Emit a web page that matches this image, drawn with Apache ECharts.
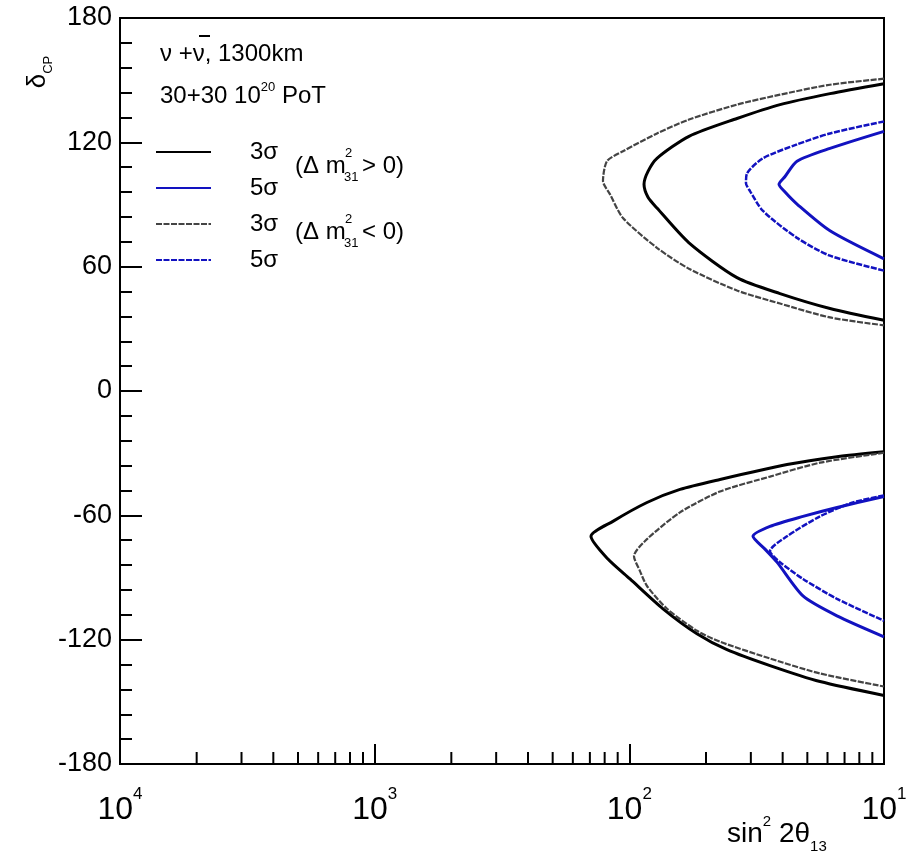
<!DOCTYPE html>
<html>
<head>
<meta charset="utf-8">
<script src="https://cdn.jsdelivr.net/npm/echarts@6/dist/echarts.min.js"></script>
<style>
  html, body { margin: 0; padding: 0; background: #fff; }
  #chart { width: 912px; height: 856px; }
</style>
</head>
<body>
<div id="chart"></div>
<script>
// x range and labels
const xMin = 1e-4;
const xMax = 0.1;
const yTicks = [-180, -120, -60, 0, 60, 120, 180];
const xMinorMantissa = [2, 3, 4, 5, 6, 7, 8, 9];
const xMinorDecades = [1e-4, 1e-3, 1e-2];

// contours: [sin^2 2theta13, deltaCP]
// upper island (deltaCP > 0)
const nh3Upper = [[0.1, 148.3], [0.06137, 143.5], [0.03905, 138.2], [0.02647, 131.5], [0.01715, 122.9], [0.01284, 112.3], [0.01184, 106], [0.01142, 99.8], [0.01184, 93.5], [0.01284, 88.3], [0.01715, 71.5], [0.02647, 54.7], [0.03905, 47.0], [0.06137, 39.8], [0.1, 34.1]];
const ih3Upper = [[0.1, 150.7], [0.06137, 147.8], [0.03905, 143.0], [0.02647, 138.2], [0.01715, 131.0], [0.01284, 124.3], [0.00944, 115.7], [0.00817, 110.9], [0.00788, 101.3], [0.00839, 95.0], [0.00944, 83.5], [0.01284, 69.1], [0.01715, 59.0], [0.02647, 48.5], [0.03905, 42.2], [0.06137, 35.5], [0.1, 31.7]];
const nh5Upper = [[0.1, 125.3], [0.06137, 117.1], [0.04554, 110.9], [0.04087, 103.5], [0.0387, 99.8], [0.04087, 96], [0.04554, 90.2], [0.06137, 77.3], [0.1, 63.8]];
const ih5Upper = [[0.1, 130.1], [0.06137, 124.3], [0.04554, 119.0], [0.03348, 112.3], [0.02897, 105], [0.02871, 100.3], [0.02977, 96.5], [0.03348, 86.9], [0.04554, 73.9], [0.06137, 65.3], [0.1, 58.1]];
// lower island (deltaCP < 0)
const nh3Lower = [[0.1, -29.3], [0.06538, -31.7], [0.04161, -35.5], [0.0227, -42.7], [0.01581, -47.5], [0.01173, -53.8], [0.00862, -62.9], [0.00707, -70.1], [0.00824, -81.1], [0.01006, -90.7], [0.01356, -105.1], [0.01843, -117.1], [0.02418, -124.8], [0.03567, -132.5], [0.05607, -140.2], [0.1, -146.9]];
const ih3Lower = [[0.1, -29.8], [0.05607, -34.6], [0.03567, -41.3], [0.0227, -48.5], [0.01581, -58.6], [0.01173, -71.5], [0.01043, -79.7], [0.01101, -86.9], [0.01173, -94.1], [0.01406, -105.1], [0.01843, -115.7], [0.0227, -121.0], [0.03567, -129.1], [0.05607, -136.3], [0.1, -142.6]];
const nh5Lower = [[0.1, -50.9], [0.06538, -56.2], [0.04807, -60.5], [0.03567, -65.3], [0.03059, -70.1], [0.03409, -76.3], [0.038, -82.6], [0.04807, -98.9], [0.06538, -108.5], [0.1, -118.6]];
const ih5Lower = [[0.1, -50.4], [0.07553, -53.8], [0.05607, -60.5], [0.04161, -70.1], [0.03567, -77.3], [0.03905, -82.6], [0.04807, -90.7], [0.06538, -100.3], [0.1, -110.9]];

const names = ["3σ (NH)", "5σ (NH)", "3σ (IH)", "5σ (IH)"];
const FONT = "Liberation Sans";
const blue = "#1212c0";

// minor tick positions on the log axis (2..9 per decade)
const xMinorTicks = [];
xMinorDecades.forEach(d => xMinorMantissa.forEach(m => xMinorTicks.push(m * d)));

function contour(name, data, color, width, dashed) {
  return {
    type: "line",
    name: name,
    data: data,
    symbol: "none",
    smooth: 0.25,
    silent: true,
    lineStyle: { color: color, width: width, type: dashed ? [6, 1.5] : "solid" },
    itemStyle: { color: color }
  };
}

const chart = echarts.init(document.getElementById("chart"));
const option = {
  animation: false,
  backgroundColor: "#fff",
  grid: {
    left: 120, right: 28, top: 18, bottom: 92,
    show: true, borderColor: "#000", borderWidth: 2, backgroundColor: "transparent"
  },
  legend: {
    data: names,
    orient: "vertical",
    left: 155,
    top: 140,
    padding: 0,
    itemWidth: 55,
    itemHeight: 10,
    itemGap: 12,
    itemStyle: { opacity: 0 },
    formatter: n => n.split(" ")[0],
    textStyle: { fontFamily: FONT, fontSize: 24, color: "#000", lineHeight: 20, padding: [0, 0, 0, 34] }
  },
  xAxis: {
    type: "log",
    logBase: 10,
    min: xMin,
    max: xMax,
    axisLine: { onZero: false, lineStyle: { color: "#000", width: 2 } },
    axisTick: { inside: true, length: 20, lineStyle: { color: "#000", width: 2 } },
    splitLine: { show: false },
    axisLabel: {
      margin: 22,
      formatter: v => "{b|10}{s|" + Math.abs(Math.round(Math.log10(v))) + "}",
      rich: {
        b: { fontFamily: FONT, fontSize: 32, color: "#000", lineHeight: 40, verticalAlign: "bottom" },
        s: { fontFamily: FONT, fontSize: 17, color: "#000", lineHeight: 40, verticalAlign: "top" }
      }
    }
  },
  yAxis: {
    type: "value",
    min: -180,
    max: 180,
    interval: 60,
    axisLine: { lineStyle: { color: "#000", width: 2 } },
    axisTick: { inside: true, length: 22, lineStyle: { color: "#000", width: 2 } },
    minorTick: { show: true, splitNumber: 5, length: 12, lineStyle: { color: "#000", width: 2 } },
    splitLine: { show: false },
    axisLabel: {
      margin: 8,
      fontFamily: FONT,
      fontSize: 27,
      color: "#000",
      formatter: v => (yTicks.indexOf(v) >= 0 ? String(v) : "")
    }
  },
  series: [
    contour(names[0], nh3Upper, "#000", 3, false),
    contour(names[0], nh3Lower, "#000", 3, false),
    contour(names[1], nh5Upper, blue, 3, false),
    contour(names[1], nh5Lower, blue, 3, false),
    contour(names[2], ih3Upper, "#444", 2.2, true),
    contour(names[2], ih3Lower, "#444", 2.2, true),
    contour(names[3], ih5Upper, blue, 2.5, true),
    contour(names[3], ih5Lower, blue, 2.5, true),
    {
      type: "custom",
      name: "minor",
      silent: true,
      z: 5,
      data: xMinorTicks.map(v => [v, -180]),
      encode: { x: 0, y: 1 },
      renderItem: (params, api) => {
        const p = api.coord([api.value(0), -180]);
        return {
          type: "line",
          shape: { x1: p[0], y1: p[1], x2: p[0], y2: p[1] - 12 },
          style: { stroke: "#000", lineWidth: 2 }
        };
      }
    }
  ],
  graphic: [
    // y axis title, rotated
    {
      type: "group", x: 40, y: 72, rotation: Math.PI / 2,
      children: [{
        type: "text", x: 0, y: 0,
        style: {
          text: "{d|δ}{c|CP}", align: "center", verticalAlign: "middle",
          rich: {
            d: { fontFamily: FONT, fontSize: 26, fill: "#000", lineHeight: 30, verticalAlign: "top" },
            c: { fontFamily: FONT, fontSize: 13, fill: "#000", lineHeight: 30, verticalAlign: "bottom" }
          }
        }
      }]
    },
    // x axis title
    {
      type: "text", x: 727, y: 834,
      style: {
        text: "{m|sin}{u|2}{m| 2θ}{l|13}", verticalAlign: "middle",
        rich: {
          m: { fontFamily: FONT, fontSize: 28, fill: "#000", lineHeight: 40, verticalAlign: "middle" },
          u: { fontFamily: FONT, fontSize: 15, fill: "#000", lineHeight: 40, verticalAlign: "top" },
          l: { fontFamily: FONT, fontSize: 15, fill: "#000", lineHeight: 40, verticalAlign: "bottom" }
        }
      }
    },
    // header texts
    {
      type: "text", x: 160, y: 54,
      style: { text: "ν +ν, 1300km", fontFamily: FONT, fontSize: 24, fill: "#000", verticalAlign: "middle" }
    },
    {
      type: "line", shape: { x1: 199, y1: 36, x2: 210, y2: 36 }, style: { stroke: "#000", lineWidth: 2 }
    },
    {
      type: "text", x: 160, y: 96,
      style: {
        text: "{m|30+30 10}{u|20}{m| PoT}", verticalAlign: "middle",
        rich: {
          m: { fontFamily: FONT, fontSize: 24, fill: "#000", lineHeight: 30, verticalAlign: "middle" },
          u: { fontFamily: FONT, fontSize: 13, fill: "#000", lineHeight: 30, verticalAlign: "top" }
        }
      }
    },
    // legend parentheticals
    { type: "text", x: 295, y: 166, style: { text: "(Δ m", fontFamily: FONT, fontSize: 24, fill: "#000", verticalAlign: "middle" } },
    { type: "text", x: 345, y: 153, style: { text: "2", fontFamily: FONT, fontSize: 13, fill: "#000", verticalAlign: "middle" } },
    { type: "text", x: 344, y: 177, style: { text: "31", fontFamily: FONT, fontSize: 13, fill: "#000", verticalAlign: "middle" } },
    { type: "text", x: 362, y: 166, style: { text: "> 0)", fontFamily: FONT, fontSize: 24, fill: "#000", verticalAlign: "middle" } },
    { type: "text", x: 295, y: 232, style: { text: "(Δ m", fontFamily: FONT, fontSize: 24, fill: "#000", verticalAlign: "middle" } },
    { type: "text", x: 345, y: 219, style: { text: "2", fontFamily: FONT, fontSize: 13, fill: "#000", verticalAlign: "middle" } },
    { type: "text", x: 344, y: 243, style: { text: "31", fontFamily: FONT, fontSize: 13, fill: "#000", verticalAlign: "middle" } },
    { type: "text", x: 362, y: 232, style: { text: "< 0)", fontFamily: FONT, fontSize: 24, fill: "#000", verticalAlign: "middle" } }
  ]
};
chart.setOption(option);
</script>
</body>
</html>
